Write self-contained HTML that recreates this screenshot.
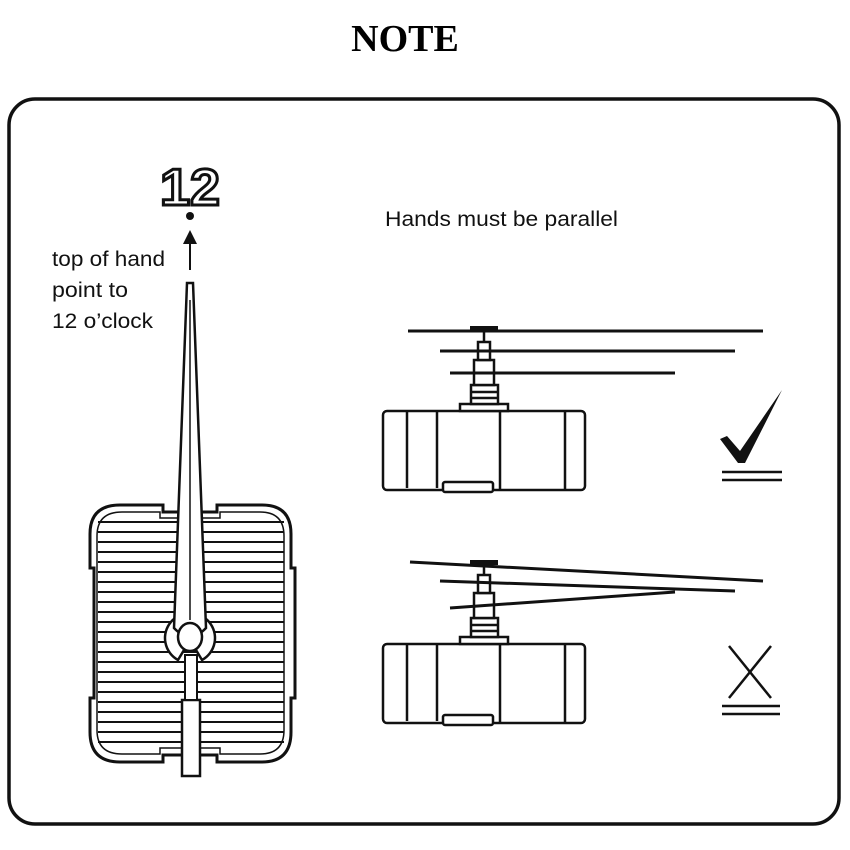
<!DOCTYPE html>
<html><head><meta charset="utf-8"><style>
html,body{margin:0;padding:0;background:#fff;}
svg{display:block;}
</style></head><body>
<svg width="850" height="850" viewBox="0 0 850 850" xmlns="http://www.w3.org/2000/svg">
<rect width="850" height="850" fill="#fff"/>
<text x="405" y="51" text-anchor="middle" font-family="Liberation Serif, serif" font-weight="bold" font-size="38">NOTE</text>
<rect x="9" y="99" width="830" height="725" rx="26" fill="none" stroke="#111" stroke-width="3.5"/>

<!-- 12 -->
<text x="190" y="205" text-anchor="middle" font-family="Liberation Sans, sans-serif" font-weight="bold" font-size="52" textLength="60" lengthAdjust="spacingAndGlyphs" fill="#fff" stroke="#111" stroke-width="3">12</text>
<circle cx="190" cy="216" r="4" fill="#111"/>
<line x1="190" y1="270" x2="190" y2="240" stroke="#111" stroke-width="2"/>
<polygon points="183,244 197,244 190,230" fill="#111"/>
<g font-family="Liberation Sans, sans-serif" font-size="21" fill="#111">
<text x="52" y="266" textLength="113" lengthAdjust="spacingAndGlyphs">top of hand</text>
<text x="52" y="297" textLength="76" lengthAdjust="spacingAndGlyphs">point to</text>
<text x="52" y="328" textLength="101" lengthAdjust="spacingAndGlyphs">12 o’clock</text>
<text x="385" y="226" font-size="21" textLength="233" lengthAdjust="spacingAndGlyphs">Hands must be parallel</text>
</g>

<!-- left movement -->
<g fill="none" stroke="#111">
<path d="M120,505 H163 V512 H217 V505 H262 Q291,505 291,534 V568 H295 V698 H291 V732 Q291,762 262,762 H217 V755 H163 V762 H120 Q90,762 90,732 V698 H94 V568 H90 V534 Q90,505 120,505 Z" stroke-width="3"/>
<path d="M122,512 H160 V518 H220 V512 H260 Q284,512 284,536 V730 Q284,754 260,754 H220 V748 H160 V754 H122 Q97,754 97,730 V536 Q97,512 122,512 Z" stroke-width="1.5"/>
</g>
<g stroke="#111" stroke-width="2">
<line x1="98" y1="522" x2="284" y2="522"/><line x1="98" y1="532" x2="284" y2="532"/>
<line x1="98" y1="542" x2="284" y2="542"/><line x1="98" y1="552" x2="284" y2="552"/>
<line x1="98" y1="562" x2="284" y2="562"/><line x1="98" y1="572" x2="284" y2="572"/>
<line x1="98" y1="582" x2="284" y2="582"/><line x1="98" y1="592" x2="284" y2="592"/>
<line x1="98" y1="602" x2="284" y2="602"/><line x1="98" y1="612" x2="284" y2="612"/>
<line x1="98" y1="622" x2="284" y2="622"/><line x1="98" y1="632" x2="284" y2="632"/>
<line x1="98" y1="642" x2="284" y2="642"/><line x1="98" y1="652" x2="284" y2="652"/>
<line x1="98" y1="662" x2="284" y2="662"/><line x1="98" y1="672" x2="284" y2="672"/>
<line x1="98" y1="682" x2="284" y2="682"/><line x1="98" y1="692" x2="284" y2="692"/>
<line x1="98" y1="702" x2="284" y2="702"/><line x1="98" y1="712" x2="284" y2="712"/>
<line x1="98" y1="722" x2="284" y2="722"/><line x1="98" y1="732" x2="284" y2="732"/>
<line x1="98" y1="742" x2="284" y2="742"/>
</g>
<!-- hand -->
<rect x="182" y="700" width="18" height="76" fill="#fff" stroke="#111" stroke-width="2.5"/>
<rect x="185" y="655" width="12" height="45" fill="#fff" stroke="#111" stroke-width="2"/>
<path d="M178,660 A25,25 0 1 1 202,660 L196,650 L184,650 Z" fill="#fff" stroke="#111" stroke-width="2.5"/>
<path d="M187,283 H193 L206,628 Q190,645 174,628 Z" fill="#fff" stroke="#111" stroke-width="2.5"/>
<line x1="190" y1="300" x2="190" y2="620" stroke="#111" stroke-width="1.5"/>
<ellipse cx="190" cy="637" rx="12" ry="14" fill="#fff" stroke="#111" stroke-width="2.5"/>

<defs>
<g id="mv" fill="#fff" stroke="#111" stroke-width="2.5">
<rect x="383" y="411" width="202" height="79" rx="4"/>
<line x1="407" y1="411" x2="407" y2="488"/>
<line x1="437" y1="411" x2="437" y2="488"/>
<line x1="500" y1="411" x2="500" y2="490"/>
<line x1="565" y1="411" x2="565" y2="490"/>
<rect x="443" y="482" width="50" height="10" rx="2"/>
<rect x="460" y="404" width="48" height="7"/>
<rect x="471" y="385" width="27" height="19"/>
<line x1="471" y1="392" x2="498" y2="392"/>
<line x1="471" y1="398" x2="498" y2="398"/>
<rect x="474" y="360" width="20" height="25"/>
<rect x="478" y="342" width="12" height="18"/>
<line x1="484" y1="331" x2="484" y2="342"/>
</g>
</defs>
<use href="#mv"/>
<use href="#mv" transform="translate(0,233)"/>
<g stroke="#111" stroke-width="3">
<line x1="408" y1="331" x2="763" y2="331"/>
<line x1="440" y1="351" x2="735" y2="351"/>
<line x1="450" y1="373" x2="675" y2="373"/>
<line x1="410" y1="562" x2="763" y2="581"/>
<line x1="440" y1="581" x2="735" y2="591"/>
<line x1="450" y1="608" x2="675" y2="592"/>
</g>
<rect x="470" y="326" width="28" height="5" fill="#111"/>
<rect x="470" y="560" width="28" height="5" fill="#111"/>

<polygon points="720,439 727,436 740,451 782,390 745,463 738,463" fill="#111"/>
<g stroke="#111" stroke-width="2.5">
<line x1="722" y1="472" x2="782" y2="472"/><line x1="722" y1="480" x2="782" y2="480"/>
<line x1="729" y1="646" x2="771" y2="698"/><line x1="771" y1="646" x2="729" y2="698"/>
<line x1="722" y1="706" x2="780" y2="706"/><line x1="722" y1="714" x2="780" y2="714"/>
</g>
</svg>
</body></html>
